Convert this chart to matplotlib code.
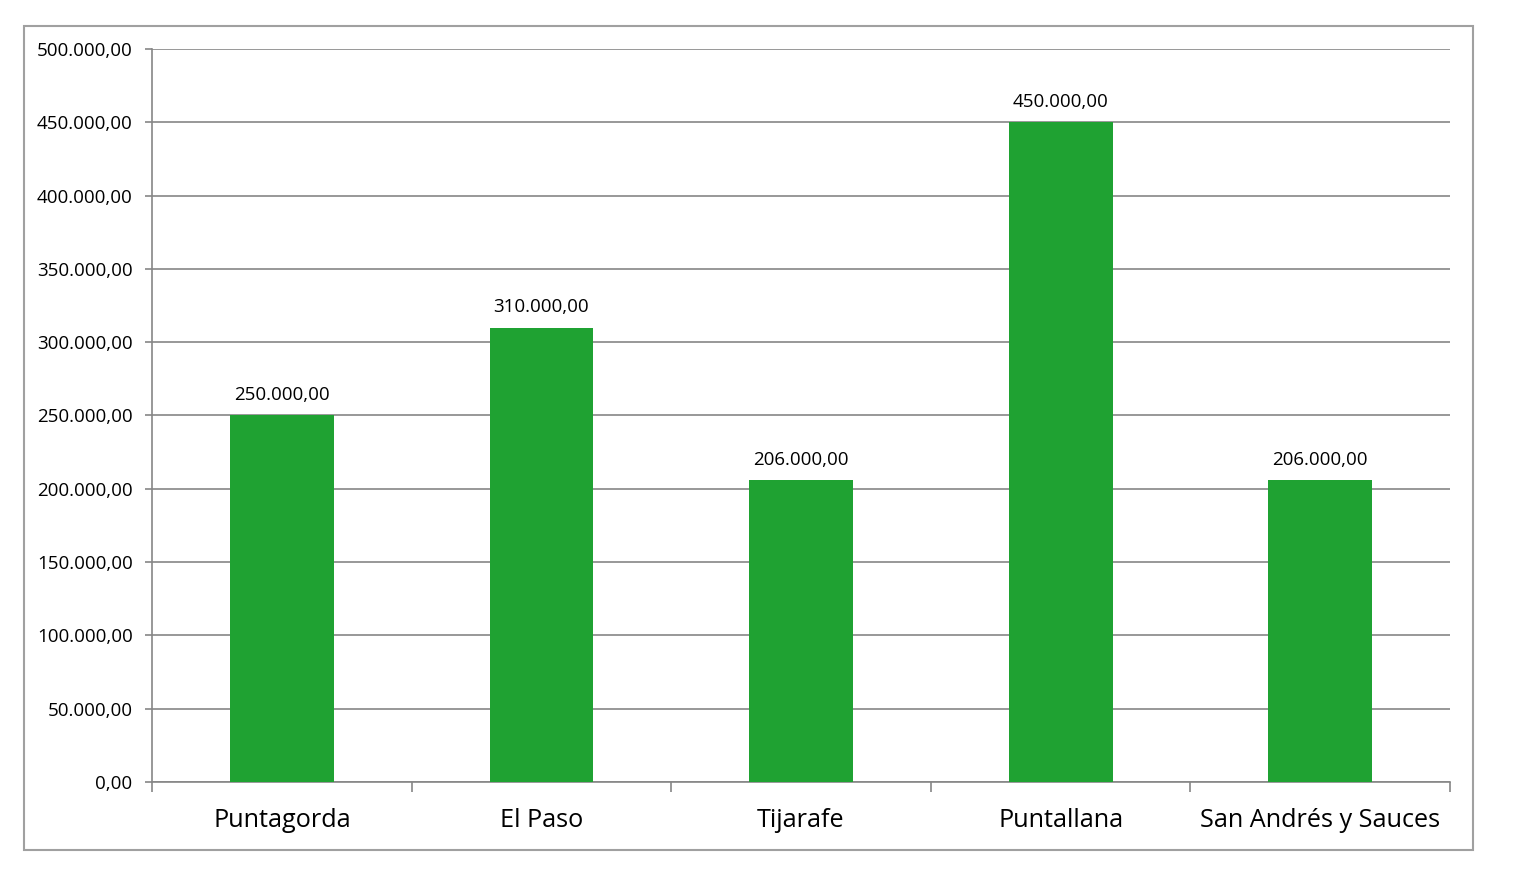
import matplotlib.pyplot as plt
from matplotlib.patches import Rectangle
from matplotlib.ticker import FuncFormatter, FixedLocator
import numpy as np

municipios = ['Puntagorda', 'El Paso', 'Tijarafe', 'Puntallana', 'San Andrés y Sauces']
importes = [250000, 310000, 206000, 450000, 206000]

plt.rcParams['font.family'] = ['Open Sans', 'DejaVu Sans']


def fmt_es(v, pos=None):
    s = f"{v:,.2f}"
    return s.replace(',', 'X').replace('.', ',').replace('X', '.')


fig = plt.figure(figsize=(15.13, 8.84), dpi=100)
ax = fig.add_axes([0.1005, 0.1154, 0.8579, 0.8292])

x = np.arange(len(municipios))
bars = ax.bar(x, importes, width=0.4, color='#1fa232', zorder=3)

for b, v in zip(bars, importes):
    ax.annotate(fmt_es(v), (b.get_x() + b.get_width() / 2, v),
                xytext=(0, 8), textcoords='offset points',
                ha='center', va='bottom', fontsize=13.5, color='black')

ax.set_xlim(-0.5, len(municipios) - 0.5)
ax.set_ylim(0, 500000)
ax.set_yticks(np.arange(0, 500001, 50000))
ax.yaxis.set_major_formatter(FuncFormatter(fmt_es))
ax.yaxis.grid(True, color='#868686', linewidth=1.2, zorder=0)

ax.set_xticks(x)
ax.set_xticklabels(municipios, fontsize=18.2)
ax.xaxis.set_minor_locator(FixedLocator(np.arange(-0.5, len(municipios), 1)))
ax.tick_params(axis='x', which='major', length=0, pad=19)
ax.tick_params(axis='x', which='minor', length=7, color='#868686', width=1.2)
ax.tick_params(axis='y', length=5, color='#868686', width=1.2, labelsize=13.5, pad=9)

for side in ['top', 'right']:
    ax.spines[side].set_visible(False)
for side in ['left', 'bottom']:
    ax.spines[side].set_color('#868686')
    ax.spines[side].set_linewidth(1.2)

border = Rectangle((0.0159, 0.0385), 0.9577, 0.9321, transform=fig.transFigure,
                   fill=False, edgecolor='#a0a0a0', linewidth=1.5)
fig.patches.append(border)

fig.savefig('out.png', dpi=100)
